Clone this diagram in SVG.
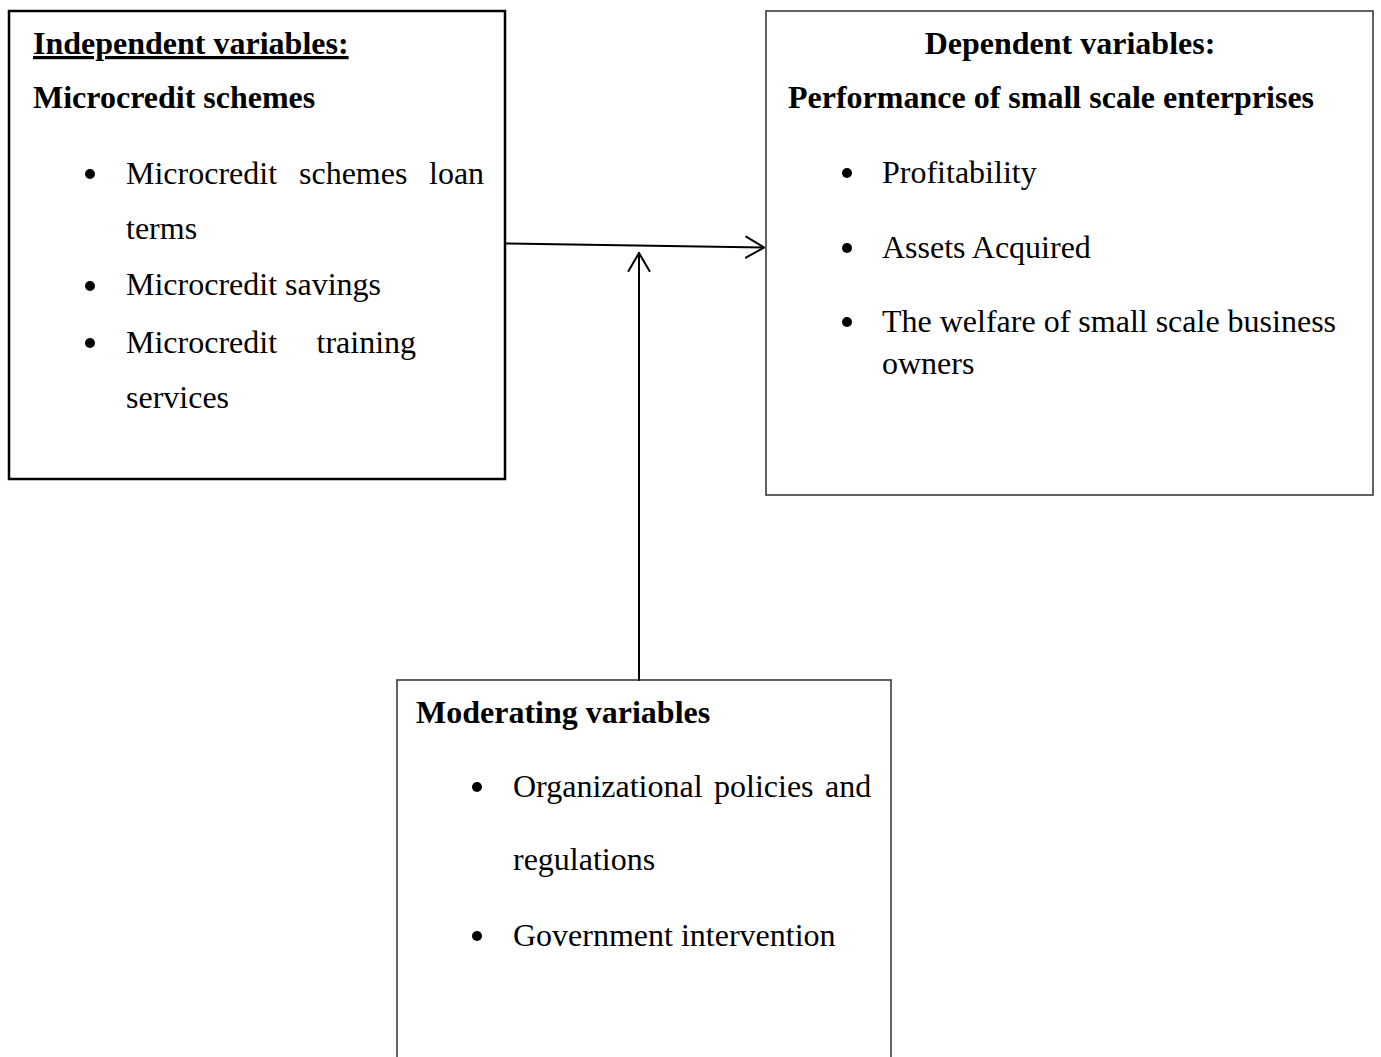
<svg xmlns="http://www.w3.org/2000/svg" width="1381" height="1057" viewBox="0 0 1381 1057">
<style>
  text { font-family: "Liberation Serif", "Times New Roman", serif; font-size: 32px; fill: #000; }
  .b { font-weight: bold; }
  .box1 { fill: #fff; stroke: #000; stroke-width: 2.5; }
  .box { fill: #fff; stroke: #3a3a3a; stroke-width: 1.6; }
  .conn { fill: none; stroke: #000; stroke-width: 2; stroke-linecap: round; stroke-linejoin: round; }
</style>
<defs>
  <marker id="arrow" viewBox="0 0 20 24" refX="19" refY="12" markerWidth="20" markerHeight="24" markerUnits="userSpaceOnUse" orient="auto">
    <path d="M1,1.5 L19,12 L1,22.5" fill="none" stroke="#000" stroke-width="2" stroke-linecap="round" stroke-linejoin="round"/>
  </marker>
</defs>
<rect width="1381" height="1057" fill="#fff"/>

<g id="independent">
  <rect class="box1" x="9" y="11" width="496" height="468"/>
  <text class="b" x="33" y="54" text-decoration="underline">Independent variables:</text>
  <text class="b" x="33" y="108">Microcredit schemes</text>
  <circle cx="90" cy="174" r="5"/>
  <text x="126" y="184">Microcredit</text>
  <text x="299" y="184">schemes</text>
  <text x="429" y="184">loan</text>
  <text x="126" y="239">terms</text>
  <circle cx="90" cy="286" r="5"/>
  <text x="126" y="295">Microcredit savings</text>
  <circle cx="90" cy="343" r="5"/>
  <text x="126" y="353">Microcredit</text>
  <text x="316.5" y="353">training</text>
  <text x="126" y="408">services</text>
</g>

<g id="dependent">
  <rect class="box" x="766" y="11" width="607" height="484"/>
  <text class="b" x="1070" y="54" text-anchor="middle">Dependent variables:</text>
  <text class="b" x="788" y="108">Performance of small scale enterprises</text>
  <circle cx="847" cy="173" r="5"/>
  <text x="882" y="183">Profitability</text>
  <circle cx="847" cy="248" r="5"/>
  <text x="882" y="258">Assets Acquired</text>
  <circle cx="847" cy="322" r="5"/>
  <text x="882" y="332">The welfare of small scale business</text>
  <text x="882" y="374">owners</text>
</g>

<g id="moderating">
  <rect class="box" x="397" y="680" width="494" height="400"/>
  <text class="b" x="416" y="723">Moderating variables</text>
  <circle cx="477" cy="787" r="5"/>
  <text x="513" y="797">Organizational</text>
  <text x="714" y="797">policies</text>
  <text x="825" y="797">and</text>
  <text x="513" y="870">regulations</text>
  <circle cx="477" cy="936" r="5"/>
  <text x="513" y="946">Government intervention</text>
</g>

<g id="connectors">
  <path class="conn" d="M505,243.5 L764,247.5" marker-end="url(#arrow)"/>
  <path class="conn" d="M639,680 L639,253" marker-end="url(#arrow)"/>
</g>
</svg>
